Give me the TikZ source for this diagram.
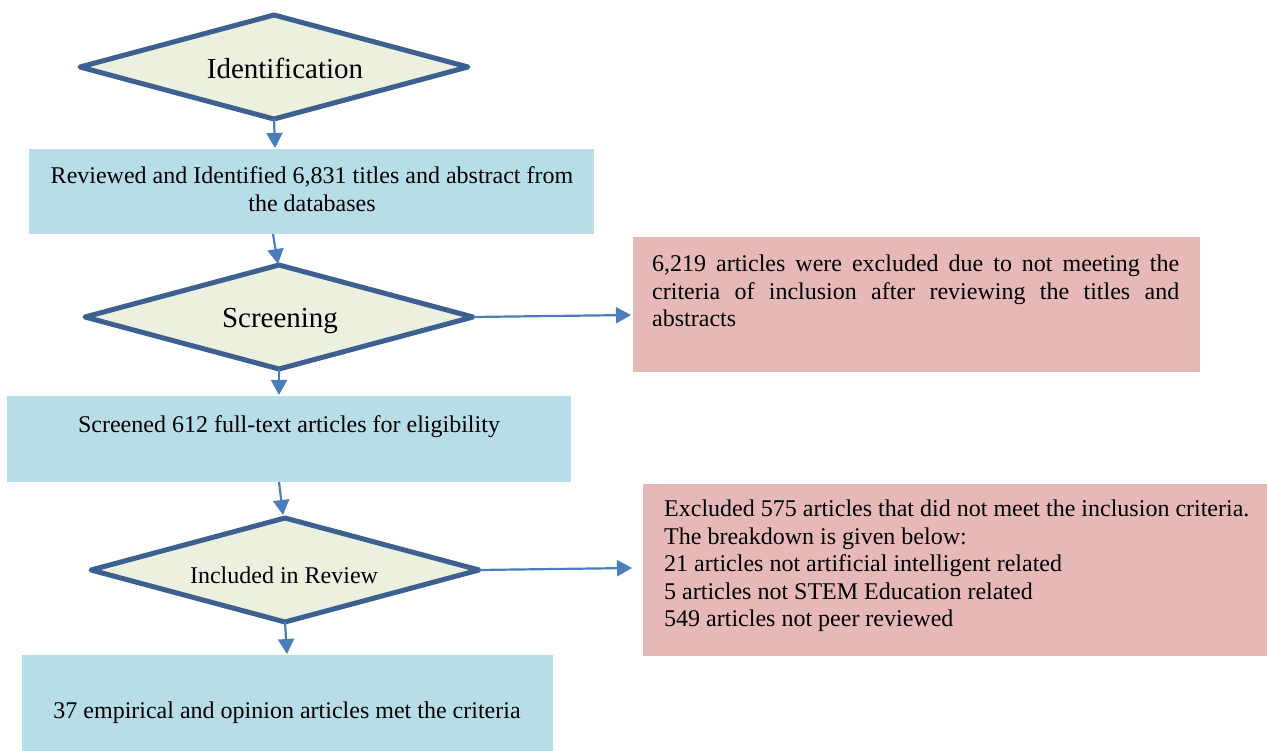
\documentclass[tikz,border=0pt]{standalone}
\usepackage{fontspec}
\setmainfont{Liberation Serif}
\usetikzlibrary{shapes.geometric,arrows.meta}
\definecolor{dborder}{HTML}{3C6090}
\definecolor{dfill}{HTML}{EBF0DF}
\definecolor{bfill}{HTML}{B7DDE8}
\definecolor{pfill}{HTML}{E6B8B7}
\definecolor{arrcol}{HTML}{4A7EBB}
\tikzset{
  dia/.style={shape=diamond, draw=dborder, fill=dfill, line width=5pt, line join=round,
    minimum width=388pt, minimum height=104pt, inner sep=0pt, outer sep=0pt},
  bbox/.style={shape=rectangle, fill=bfill, inner sep=0pt, outer sep=0pt},
  pbox/.style={shape=rectangle, fill=pfill, inner sep=0pt, outer sep=0pt},
  txt/.style={inner sep=0pt, font=\fontsize{24}{27.5}\selectfont},
  arr/.style={draw=arrcol, line width=2.2pt, -{Triangle[length=15pt,width=16pt]}, color=arrcol},
}
\begin{document}
\begin{tikzpicture}[x=1pt,y=-1pt]
\useasboundingbox (0,0) rectangle (1267,751);
% diamonds
\node[dia] (d1) at (274,67) {};
\node[txt, font=\fontsize{29}{32}\selectfont] (t1) at (285,68) {Identification};
\node[dia] (d2) at (279,317) {};
\node[txt, font=\fontsize{29}{32}\selectfont] (t2) at (280,321) {Screening};
\node[dia] (d3) at (285,570) {};
\node[txt] (t3) at (284,575) {Included in Review};
% blue boxes
\node[bbox, minimum width=565pt, minimum height=85pt] (b1) at (311.5,191.5) {};
\node[txt, align=center] (tb1) at (312,189) {Reviewed and Identified 6,831 titles and abstract from\\the databases};
\node[bbox, minimum width=564pt, minimum height=86pt] (b2) at (289,439) {};
\node[txt] (tb2) at (289,427) {Screened 612 full-text articles for eligibility};
\node[bbox, minimum width=531pt, minimum height=96pt] (b3) at (287.5,703) {};
\node[txt] (tb3) at (287,713) {37 empirical and opinion articles met the criteria};
% pink boxes
\node[pbox, minimum width=567pt, minimum height=135pt] (p1) at (916.5,304.5) {};
\node[txt, anchor=north west, text width=527pt, align=justify] (tp1) at (652,255)
  {6,219 articles were excluded due to not meeting the\linebreak criteria of inclusion after reviewing the titles and\linebreak abstracts};
\node[pbox, minimum width=624pt, minimum height=172pt] (p2) at (955,570) {};
\node[txt, anchor=north west, align=left] (tp2) at (664,500)
  {Excluded 575 articles that did not meet the inclusion criteria.\\The breakdown is given below:\\21 articles not artificial intelligent related\\5 articles not STEM Education related\\549 articles not peer reviewed};
% connectors
\coordinate (e1) at (275,148);
\coordinate (s2) at (273,234);
\coordinate (e2) at (278,264);
\coordinate (e3) at (279,395);
\coordinate (s4) at (279,482);
\coordinate (e4) at (283,515);
\coordinate (e5) at (287,654);
\coordinate (e6) at (631,315);
\coordinate (e7) at (632,568);
\draw[arr] (d1.south) -- (e1);
\draw[arr] (s2) -- (e2);
\draw[arr] (d2.south) -- (e3);
\draw[arr] (s4) -- (e4);
\draw[arr] (d3.south) -- (e5);
\draw[arr] (d2.east) -- (e6);
\draw[arr] (d3.east) -- (e7);
\end{tikzpicture}
\end{document}
